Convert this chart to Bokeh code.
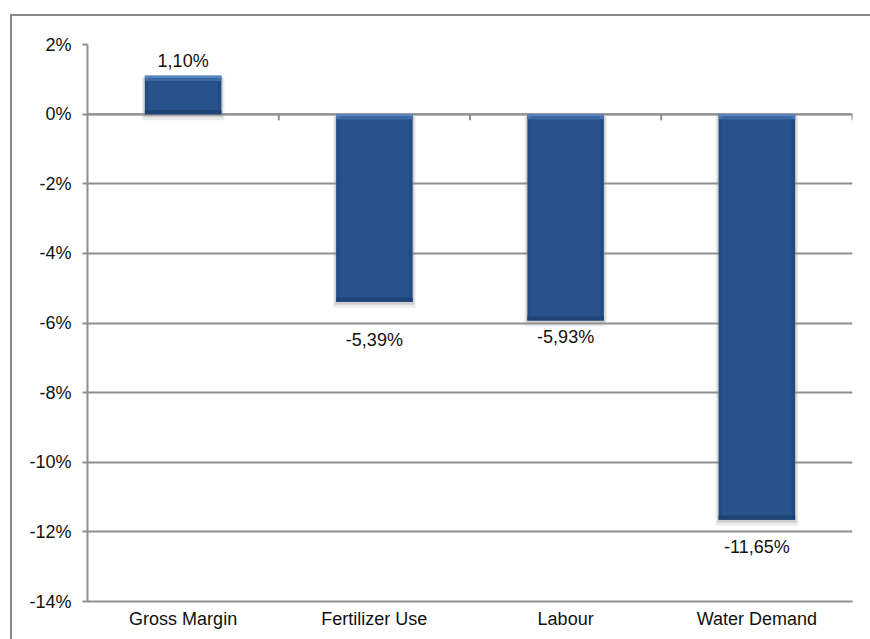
from bokeh.plotting import figure
from bokeh.models import FactorRange, Range1d, FixedTicker, ColumnDataSource
from bokeh.core.properties import value
from bokeh.embed import file_html
from bokeh.resources import INLINE

categories = ["Gross Margin", "Fertilizer Use", "Labour", "Water Demand"]
changes = [1.10, -5.39, -5.93, -11.65]
label_texts = ["1,10%", "-5,39%", "-5,93%", "-11,65%"]
y_ticks = [-14, -12, -10, -8, -6, -4, -2, 0, 2]
y_tick_labels = ["-14%", "-12%", "-10%", "-8%", "-6%", "-4%", "-2%", "0%", "2%"]

# style-only pixel offsets for the data labels (as placed in the original)
label_offsets_px = [-15, 28, 6, 17]

FONT = "Liberation Sans"
GRID = "#8f8f8f"

W_FIG, H_FIG = 858, 623
B_TOP, B_BOTTOM, B_LEFT, B_RIGHT = 28, 40, 75, 20
p = figure(x_range=FactorRange(*categories, range_padding=0),
           y_range=Range1d(-14, 2),
           width=W_FIG, height=H_FIG, output_backend="svg", toolbar_location=None,
           min_border_left=B_LEFT, min_border_right=B_RIGHT,
           min_border_top=B_TOP, min_border_bottom=B_BOTTOM)
p.styles = {"margin-left": "10px", "margin-top": "14px",
            "border-left": "2px solid #8a8a8a", "border-top": "2px solid #8a8a8a",
            "box-sizing": "content-box", "overflow": "hidden"}
p.outline_line_color = None
p.background_fill_color = "white"
p.border_fill_color = "white"

frame_h = H_FIG - B_TOP - B_BOTTOM
frame_w = W_FIG - B_LEFT - B_RIGHT
px_y = (2 - (-14)) / frame_h
px_x = len(categories) / frame_w

# grid
p.xgrid.grid_line_color = None
p.ygrid.ticker = FixedTicker(ticks=y_ticks)
p.ygrid.grid_line_color = GRID
p.ygrid.grid_line_width = 2

# y axis
p.yaxis.ticker = FixedTicker(ticks=y_ticks)
p.yaxis.major_label_overrides = {t: l for t, l in zip(y_ticks, y_tick_labels)}
p.yaxis.axis_line_color = GRID
p.yaxis.axis_line_width = 2
p.yaxis.major_tick_line_color = GRID
p.yaxis.major_tick_line_width = 2
p.yaxis.major_tick_out = 5
p.yaxis.major_tick_in = 0
p.yaxis.minor_tick_line_color = None
p.yaxis.major_label_standoff = 11
p.yaxis.major_label_text_font = FONT
p.yaxis.major_label_text_font_size = "18px"
p.yaxis.major_label_text_color = "#111111"

# x axis (labels at the bottom)
p.xaxis.axis_line_color = GRID
p.xaxis.axis_line_width = 2
p.xaxis.major_tick_line_color = None
p.xaxis.minor_tick_line_color = None
p.xaxis.major_label_standoff = 1
p.xaxis.major_label_text_font = FONT
p.xaxis.major_label_text_font_size = "18px"
p.xaxis.major_label_text_color = "#111111"

# zero line with category boundary ticks
n = len(categories)
p.segment(x0=[0], y0=[0], x1=[n], y1=[0], line_color=GRID, line_width=2)
bounds = list(range(1, n + 1))
p.segment(x0=bounds, y0=[0] * n, x1=bounds, y1=[-6 * px_y] * n, line_color=GRID, line_width=2)

tops = [max(v, 0) for v in changes]
bottoms = [min(v, 0) for v in changes]
src = ColumnDataSource(dict(
    cat=categories, top=tops, bottom=bottoms,
    sh1_top=[t - 2 * px_y for t in tops], sh1_bottom=[b - 6 * px_y for b in bottoms],
    sh2_top=[t - 2 * px_y for t in tops], sh2_bottom=[b - 3 * px_y for b in bottoms],
    hl1_bottom=[t - 2 * px_y for t in tops],
    hl2_bottom=[t - 5 * px_y for t in tops],
    dk_top=[b + 4 * px_y for b in bottoms],
    in_top=[t - 5 * px_y for t in tops], in_bottom=[b + 4 * px_y for b in bottoms],
))

W = 0.40
# soft shadow
p.vbar(x="cat", top="sh1_top", bottom="sh1_bottom", width=W + 6 * px_x, source=src,
       fill_color="#9a9a9a", fill_alpha=0.18, line_color=None)
p.vbar(x="cat", top="sh2_top", bottom="sh2_bottom", width=W + 3 * px_x, source=src,
       fill_color="#8a8a8a", fill_alpha=0.3, line_color=None)
# bar body (edges)
p.vbar(x="cat", top="top", bottom="bottom", width=W, source=src,
       fill_color="#224b83", line_color=None)
# inner face
p.vbar(x="cat", top="in_top", bottom="in_bottom", width=W - 7 * px_x, source=src,
       fill_color="#28528b", line_color=None)
# top highlight bevel
p.vbar(x="cat", top="top", bottom="hl2_bottom", width=W, source=src,
       fill_color="#4673ad", line_color=None)
p.vbar(x="cat", top="top", bottom="hl1_bottom", width=W, source=src,
       fill_color="#5c88c1", line_color=None)
p.vbar(x="cat", top="hl1_bottom", bottom="hl2_bottom", width=W - 7 * px_x, source=src,
       fill_color="#3b68a3", line_color=None)
# bottom darker bevel
p.vbar(x="cat", top="dk_top", bottom="bottom", width=W, source=src,
       fill_color="#1d4374", line_color=None)

# data labels
pos = [i for i, v in enumerate(changes) if v >= 0]
neg = [i for i, v in enumerate(changes) if v < 0]
for idx, base in ((pos, "alphabetic"), (neg, "top")):
    s = ColumnDataSource(dict(
        cat=[categories[i] for i in idx],
        y=[changes[i] for i in idx],
        txt=[label_texts[i] for i in idx],
        off=[label_offsets_px[i] for i in idx],
    ))
    p.text(x="cat", y="y", text="txt", y_offset="off", source=s,
           text_align="center", text_baseline=base,
           text_font=value(FONT), text_font_size="18px", text_color="#111111")

open("out.html", "w").write(file_html(p, INLINE))
